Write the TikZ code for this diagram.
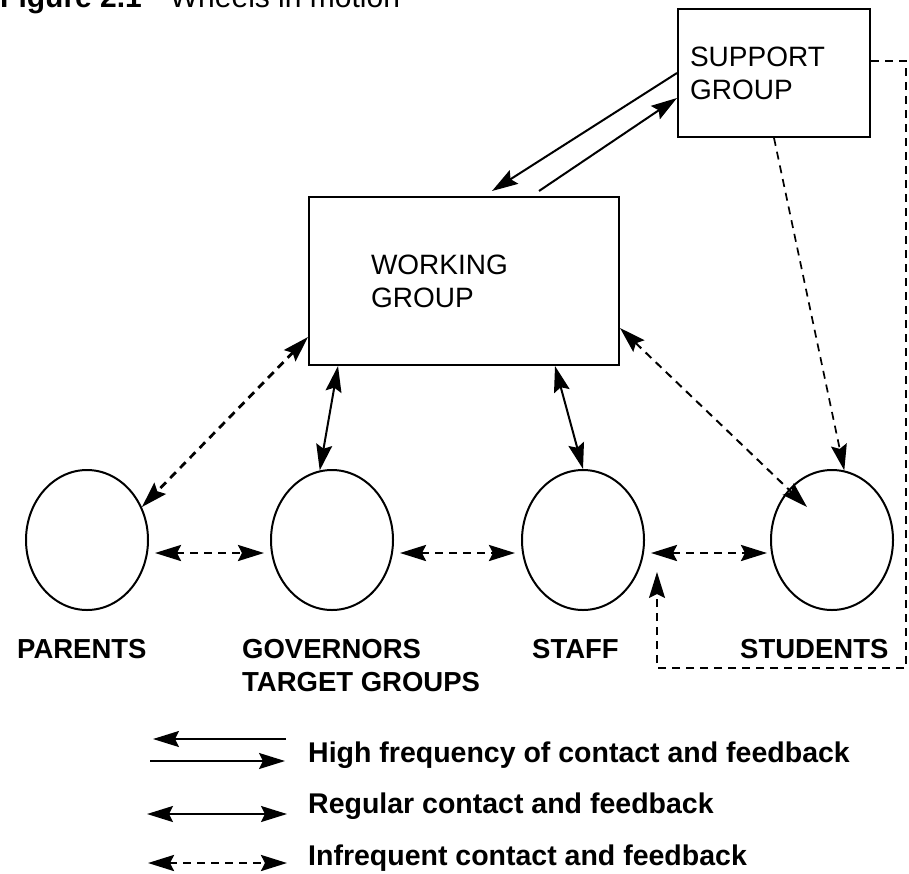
\documentclass[tikz,border=0pt]{standalone}
\usepackage{fontspec}
\setmainfont{Liberation Sans}
\usetikzlibrary{arrows.meta,shapes.geometric}

\tikzset{
  >={Stealth[length=26pt,width=16pt,inset=4pt]},
  box/.style={draw, line width=2pt, align=left, font=\fontsize{28}{33}\selectfont},
  wheel/.style={draw, ellipse, line width=2pt, minimum width=122pt, minimum height=140pt, inner sep=0pt},
  wheelname/.style={font=\bfseries\fontsize{27.5}{33}\selectfont, anchor=base west, inner sep=0pt},
  keytext/.style={font=\bfseries\fontsize{28.5}{34}\selectfont, anchor=base west, inner sep=0pt},
  link/.style={line width=2pt},
  seldom/.style={line width=2.8pt, dash pattern=on 8pt off 6pt},
}

\begin{document}
\begin{tikzpicture}[x=1pt,y=-1pt]
\useasboundingbox (0,0) rectangle (909,873);
\node[anchor=base west, inner sep=0pt, font=\fontsize{30}{36}\selectfont] (title) at (0,7) {\textbf{Figure 2.1}\hspace{28pt}Wheels in motion};

% groups
\node[box, minimum width=192pt, minimum height=128pt, text width=168pt, inner xsep=12pt] (support) at (774,73) {SUPPORT\\GROUP};
\node[box, minimum width=310pt, minimum height=168pt, text width=186pt, inner xsep=62pt] (working) at (464,281) {WORKING\\GROUP};

% wheels
\node[wheel] (parents) at (87,540) {};
\node[wheel] (governors) at (332,540) {};
\node[wheel] (staff) at (583,540) {};
\node[wheel] (students) at (832,540) {};
\node[wheelname] (parentsname) at (17,658) {PARENTS};
\node[wheelname] (governorsname) at (242,658) {GOVERNORS};
\node[wheelname] (targetname) at (242,691) {TARGET GROUPS};
\node[wheelname] (staffname) at (532,658) {STAFF};
\node[wheelname] (studentsname) at (740,658) {STUDENTS};

% high frequency
\draw[link, ->] (support.west) -- ([xshift=28pt,yshift=5pt]working.north);
\draw[link, ->] ([xshift=75pt,yshift=5pt]working.north) -- ([yshift=-25pt]support.west);

% regular
\draw[link, <->] ([xshift=-126pt]working.south) -- (governors.100);
\draw[link, <->] ([xshift=91pt]working.south) -- (staff.north);

% infrequent
\draw[seldom, <->] ([yshift=-56pt]working.west) -- (parents.31);
\draw[seldom, line width=2pt, <->] ([yshift=-47pt]working.east) -- ([xshift=-25pt,yshift=33pt]students.center);
\draw[seldom, line width=1.7pt, ->] (support.south) -- (students.80);
\draw[seldom, <->, shorten <=6pt, shorten >=6pt] ([yshift=-13pt]parents.east) -- ([yshift=-13pt]governors.west);
\draw[seldom, <->, shorten <=6pt, shorten >=6pt] ([yshift=-13pt]governors.east) -- ([yshift=-13pt]staff.west);
\draw[seldom, <->, shorten <=6pt, shorten >=3pt] ([yshift=-13pt]staff.east) -- ([yshift=-13pt]students.west);
\coordinate (loopcorner) at (906,668);
\coordinate (loopend) at (657,572);
\draw[seldom, line width=1.8pt, ->] ([yshift=12pt]support.east) -| (loopcorner) -| (loopend);

% key
\node[keytext] (keyhigh) at (308,762) {High frequency of contact and feedback};
\node[keytext] (keyregular) at (308,813) {Regular contact and feedback};
\node[keytext] (keyseldom) at (308,865) {Infrequent contact and feedback};
\draw[link, ->] ([xshift=-22pt,yshift=23pt]keyhigh.base west) -- ++(-133,0);
\draw[link, ->] ([xshift=-158pt,yshift=1pt]keyhigh.base west) -- ++(135,0);
\draw[link, <->] ([xshift=-161pt,yshift=-1pt]keyregular.base west) -- ++(140,0);
\draw[seldom, <->] ([xshift=-160pt,yshift=2pt]keyseldom.base west) -- ++(139,0);
\end{tikzpicture}
\end{document}
